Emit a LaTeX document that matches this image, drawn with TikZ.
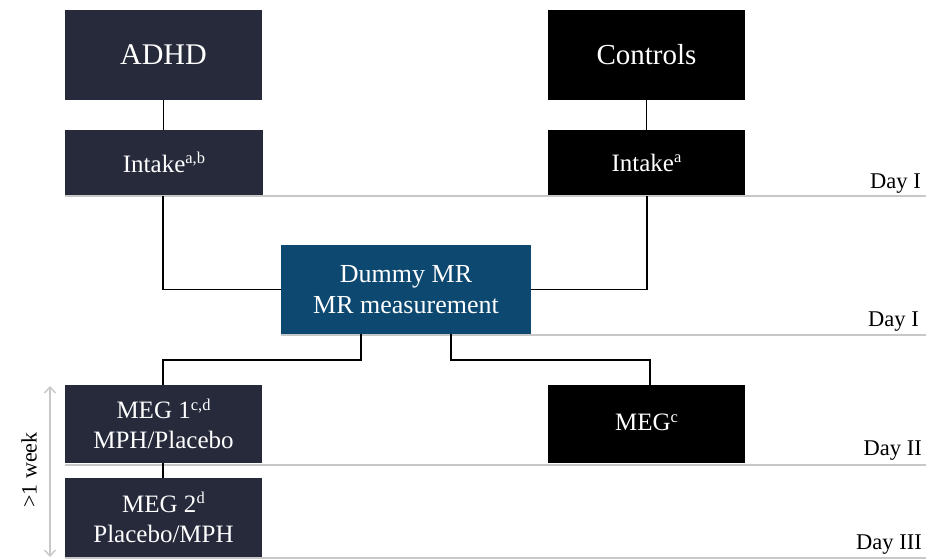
\documentclass[tikz,border=0pt]{standalone}
\usepackage{fontspec}
\setmainfont{Liberation Serif}
\usetikzlibrary{arrows.meta}
\definecolor{navy}{HTML}{272A3B}
\definecolor{mrblue}{HTML}{0C4870}
\definecolor{rule}{HTML}{C8C8C8}
\newcommand\supmark[1]{\raisebox{0.33em}{\fontsize{0.66em}{0.7em}\selectfont #1}}
\begin{document}
\begin{tikzpicture}[x=1pt,y=-1pt,
  box/.style={draw=none,text=white,inner sep=0pt,align=center},
  adhd/.style={box,fill=navy},
  ctrl/.style={box,fill=black},
  conn/.style={draw=black,line width=1.5pt},
  dayline/.style={draw=rule,line width=1.6pt},
  daylbl/.style={anchor=base east,font=\fontsize{22.5}{26}\selectfont,inner sep=0pt}]
\useasboundingbox (0,0) rectangle (926,559);
% boxes
\node[adhd,minimum width=197pt,minimum height=90pt,font=\fontsize{30}{34}\selectfont] (adhd) at (163.5,55) {ADHD};
\node[ctrl,minimum width=197pt,minimum height=90pt,font=\fontsize{29}{34}\selectfont] (ctrl) at (646.5,55) {Controls};
\node[adhd,minimum width=198pt,minimum height=65pt,font=\fontsize{25}{30}\selectfont] (intA) at (164,162.5) {Intake\supmark{a,b}};
\node[ctrl,minimum width=197pt,minimum height=65pt,font=\fontsize{25}{30}\selectfont] (intC) at (646.5,162.5) {Intake\supmark{a}};
\node[box,fill=mrblue,minimum width=250pt,minimum height=89pt,font=\fontsize{26}{31}\selectfont] (mr) at (406,289.5) {Dummy MR\\MR measurement};
\node[adhd,minimum width=197pt,minimum height=78pt,font=\fontsize{25}{30}\selectfont] (meg1) at (163.5,424) {MEG 1\supmark{c,d}\\MPH/Placebo};
\node[ctrl,minimum width=197pt,minimum height=78pt,font=\fontsize{25}{30}\selectfont] (megc) at (646.5,424) {\raisebox{3pt}{MEG\supmark{c}}};
\node[adhd,minimum width=197pt,minimum height=79pt,font=\fontsize{25}{30}\selectfont] (meg2) at (163.5,517.5) {MEG 2\supmark{d}\\Placebo/MPH};
% day lines
\coordinate (d1a) at (65,196); \coordinate (d1b) at (926,196);
\coordinate (d2a) at (281,335); \coordinate (d2b) at (926,335);
\coordinate (d3a) at (65,465); \coordinate (d3b) at (926,465);
\coordinate (d4a) at (65,558); \coordinate (d4b) at (926,558);
\draw[dayline] (d1a) -- (d1b);
\draw[dayline] (d2a) -- (d2b);
\draw[dayline] (d3a) -- (d3b);
\draw[dayline] (d4a) -- (d4b);
\node[daylbl] (l1) at (921,188) {Day I};
\node[daylbl] (l2) at (919,326) {Day I};
\node[daylbl] (l3) at (922,455) {Day II};
\node[daylbl] (l4) at (922,549) {Day III};
% connectors
\draw[conn] (adhd.south) -- (intA.north -| adhd.south);
\draw[conn] (ctrl.south) -- (intC.north);
\draw[conn] (163,196) |- (mr.west);
\draw[conn] (647,196) |- (mr.east);
\draw[conn] (mr.south -| 361,0) -- (361,360) -| (meg1.north -| 163,0);
\draw[conn] (mr.south -| 451,0) -- (451,360) -| (megc.north -| 650,0);
\draw[conn] (meg1.south -| 163,0) -- (meg2.north -| 163,0);
% week arrow
\coordinate (wa) at (50,386);
\coordinate (wb) at (50,557);
\draw[draw=rule,line width=1.4pt,{Straight Barb[length=6pt,width=11pt]}-{Straight Barb[length=6pt,width=11pt]}] (wa) -- (wb);
\node[rotate=90,font=\fontsize{22}{26}\selectfont] (wk) at (29,470) {>1 week};
\end{tikzpicture}
\end{document}
